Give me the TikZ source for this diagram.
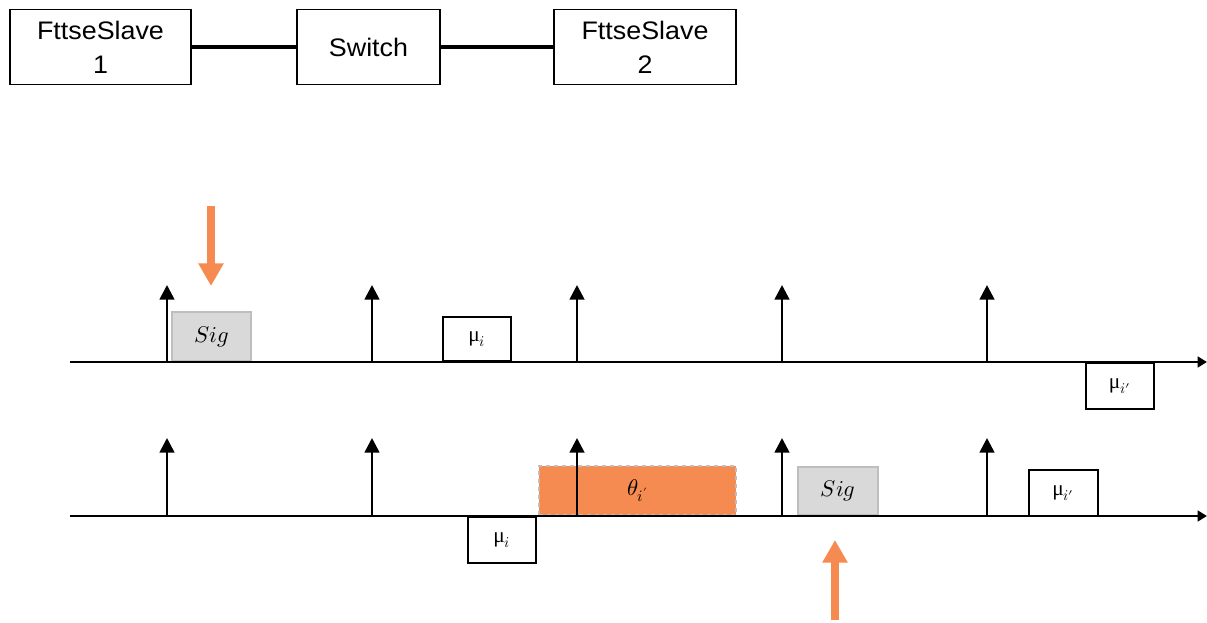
\documentclass[tikz,border=0pt]{standalone}
\usepackage{fontspec}
\usepackage{unicode-math}
\setmainfont{Liberation Sans}[FakeStretch=1.06]
\setmathfont{Latin Modern Math}
\newfontfamily\greekfont{Liberation Serif}
\usetikzlibrary{arrows.meta}
\definecolor{orng}{RGB}{245,139,80}
\definecolor{sigfill}{RGB}{217,217,217}
\definecolor{sigdraw}{RGB}{190,190,190}
\begin{document}
\begin{tikzpicture}[x=0.75pt,y=-0.75pt,
  topbox/.style={draw,line width=1.4pt,minimum height=56.25pt,inner sep=0pt,align=center,font=\fontsize{19}{25.5}\selectfont},
  mubox/.style={draw,line width=1.3pt,fill=white,inner sep=0pt,font=\fontsize{16}{18}\selectfont},
  sigbox/.style={draw=sigdraw,line width=1.3pt,fill=sigfill,inner sep=0pt,font=\fontsize{17}{19}\selectfont},
  thetabox/.style={draw=sigdraw,dashed,line width=1.3pt,fill=orng,inner sep=0pt,font=\fontsize{17}{19}\selectfont},
  link/.style={line width=2.5pt},
  axis/.style={line width=1.8pt,-{Triangle[width=8pt,length=7pt]}},
  tick/.style={line width=2pt,-{Triangle[width=11pt,length=11pt]}},
  evt/.style={line width=6.5pt,draw=orng,-{Triangle[width=18pt,length=17pt]}}
]
\useasboundingbox (0,0) rectangle (1207,623);

% top network
\node[topbox,minimum width=135.75pt] (fs1) at (100.5,47) {FttseSlave\\1};
\node[topbox,minimum width=107.25pt] (sw) at (368.5,47) {Switch};
\node[topbox,minimum width=136.5pt] (fs2) at (645,47) {FttseSlave\\2};
\draw[link] (fs1) -- (sw);
\draw[link] (sw) -- (fs2);

% axes
\coordinate (a1s) at (70,362);
\coordinate (a1e) at (1207,362);
\coordinate (a2s) at (70,516);
\coordinate (a2e) at (1207,516);

% boxes
\node[sigbox,minimum width=59.25pt,minimum height=36.75pt] (sig1) at (211.5,336.5) {$Sig$};
\node[mubox,minimum width=51pt,minimum height=33pt] (mu1) at (477,339) {{\greekfont μ}$_i$};
\node[mubox,minimum width=51pt,minimum height=34.5pt] (mu1p) at (1120,386) {{\greekfont μ}$_{i'}$};
\node[mubox,minimum width=51pt,minimum height=34.5pt] (mu2) at (502,540) {{\greekfont μ}$_i$};
\node[thetabox,minimum width=147.75pt,minimum height=36.75pt] (th) at (637.5,490.5) {$\theta_{i'}$};
\node[sigbox,minimum width=60pt,minimum height=36pt] (sig2) at (838,491) {$Sig$};
\node[mubox,minimum width=51.75pt,minimum height=34.5pt] (mu2p) at (1063.5,493) {{\greekfont μ}$_{i'}$};

\draw[axis] (a1s) -- (a1e);
\draw[axis] (a2s) -- (a2e);

% ticks
\foreach \i/\x in {1/167,2/372,3/577,4/782,5/987}{
  \coordinate (t1b\i) at (\x,362);
  \coordinate (t1t\i) at (\x,285);
  \coordinate (t2b\i) at (\x,516);
  \coordinate (t2t\i) at (\x,438);
  \draw[tick] (t1b\i) -- (t1t\i);
  \draw[tick] (t2b\i) -- (t2t\i);
}

% event arrows
\coordinate (e1s) at (211,206);
\coordinate (e1e) at (211,286);
\coordinate (e2s) at (835,620);
\coordinate (e2e) at (835,540);
\draw[evt] (e1s) -- (e1e);
\draw[evt] (e2s) -- (e2e);
\end{tikzpicture}
\end{document}
